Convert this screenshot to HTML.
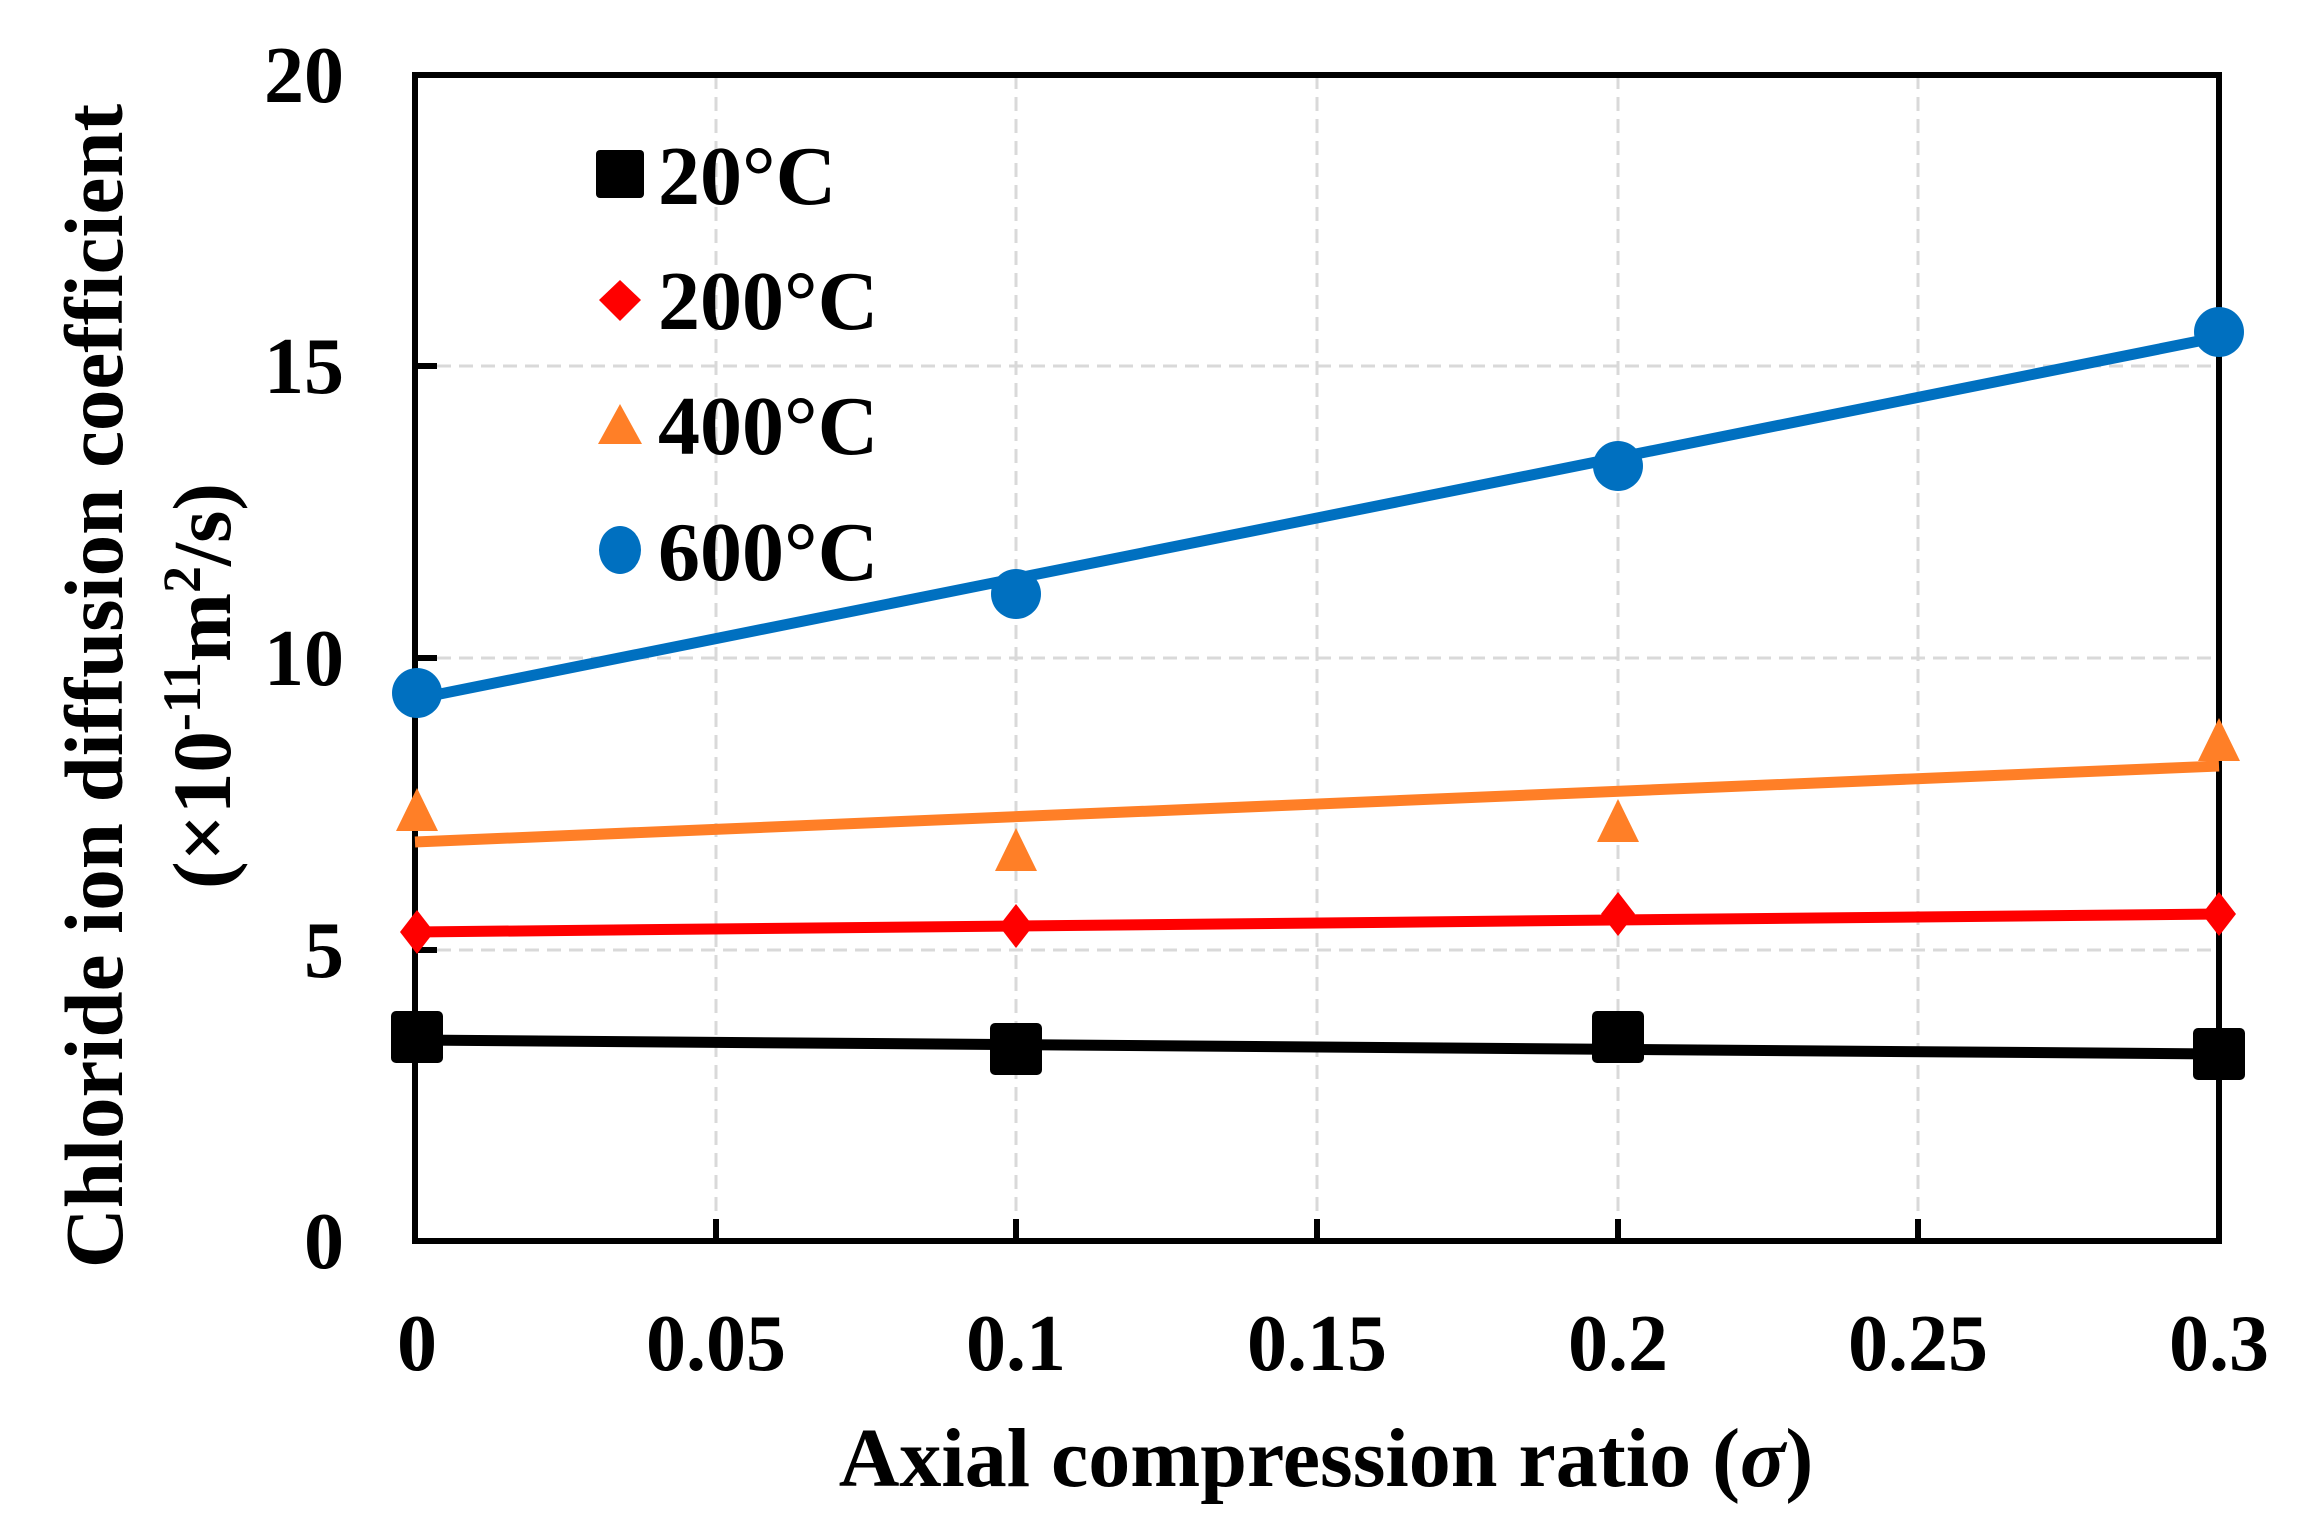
<!DOCTYPE html>
<html><head><meta charset="utf-8"><style>body{margin:0;background:#fff}svg{display:block}</style></head><body>
<svg width="2313" height="1536" xmlns="http://www.w3.org/2000/svg" font-family="Liberation Serif, serif" font-weight="bold">
<rect width="2313" height="1536" fill="#fff"/>
<g stroke="#d9d9d9" stroke-width="3" stroke-dasharray="14,8">
<line x1="716" y1="75" x2="716" y2="1241"/><line x1="1016" y1="75" x2="1016" y2="1241"/><line x1="1317" y1="75" x2="1317" y2="1241"/><line x1="1618" y1="75" x2="1618" y2="1241"/><line x1="1918" y1="75" x2="1918" y2="1241"/>
<line x1="415" y1="366" x2="2219" y2="366"/><line x1="415" y1="658" x2="2219" y2="658"/><line x1="415" y1="950" x2="2219" y2="950"/>
</g>
<g stroke="#000" stroke-width="6">
<rect x="415" y="75" width="1804" height="1166" fill="none"/>
<line x1="716" y1="1241" x2="716" y2="1219"/><line x1="1016" y1="1241" x2="1016" y2="1219"/><line x1="1317" y1="1241" x2="1317" y2="1219"/><line x1="1618" y1="1241" x2="1618" y2="1219"/><line x1="1918" y1="1241" x2="1918" y2="1219"/>
<line x1="415" y1="366" x2="437" y2="366"/><line x1="415" y1="658" x2="437" y2="658"/><line x1="415" y1="950" x2="437" y2="950"/>
</g>
<g font-size="80" text-anchor="end">
<text x="344" y="102">20</text><text x="344" y="393">15</text><text x="344" y="685">10</text><text x="344" y="977">5</text><text x="344" y="1268">0</text>
</g>
<g font-size="80" text-anchor="middle">
<text x="417" y="1370">0</text><text x="716" y="1370">0.05</text><text x="1016" y="1370">0.1</text><text x="1317" y="1370">0.15</text><text x="1618" y="1370">0.2</text><text x="1918" y="1370">0.25</text><text x="2219" y="1370">0.3</text>
</g>
<text x="1326" y="1486" font-size="84" text-anchor="middle">Axial compression ratio (<tspan font-style="italic">σ</tspan>)</text>
<g font-size="83" text-anchor="middle">
<text transform="translate(122,686) rotate(-90)">Chloride ion diffusion coefficient</text>
<text transform="translate(230,686) rotate(-90)">(×10<tspan font-size="54" dy="-30">-11</tspan><tspan dy="30">m</tspan><tspan font-size="54" dy="-30">2</tspan><tspan dy="30">/s)</tspan></text>
</g>
<line x1="415" y1="699" x2="2219" y2="337" stroke="#0070c0" stroke-width="11"/>
<line x1="415" y1="842" x2="2219" y2="766" stroke="#ff7f27" stroke-width="11"/>
<line x1="415" y1="932" x2="2219" y2="914" stroke="#ff0000" stroke-width="11"/>
<line x1="415" y1="1040" x2="2219" y2="1054" stroke="#000" stroke-width="11"/>
<g fill="#0070c0"><circle cx="417" cy="693" r="25"/><circle cx="1016" cy="594" r="25"/><circle cx="1618" cy="466" r="25"/><circle cx="2219" cy="332" r="25"/></g>
<g fill="#ff7f27"><polygon points="417,788 396,831 438,831"/><polygon points="1016,828 995,871 1037,871"/><polygon points="1618,799 1597,842 1639,842"/><polygon points="2219,718 2198,761 2240,761"/></g>
<g fill="#ff0000"><polygon points="417,910 434,932 417,954 400,932"/><polygon points="1016,904 1033,926 1016,948 999,926"/><polygon points="1618,892 1635,914 1618,936 1601,914"/><polygon points="2219,892 2236,914 2219,936 2202,914"/></g>
<g fill="#000"><rect x="391" y="1011" width="52" height="52" rx="5"/><rect x="990" y="1023" width="52" height="52" rx="5"/><rect x="1592" y="1011" width="52" height="52" rx="5"/><rect x="2193" y="1028" width="52" height="52" rx="5"/></g>
<rect x="596" y="150" width="48" height="48" rx="4" fill="#000"/>
<polygon points="620,280 641,300 620,321 599,300" fill="#ff0000"/>
<polygon points="620,404 598,444 642,444" fill="#ff7f27"/>
<ellipse cx="620" cy="550" rx="21" ry="24" fill="#0070c0"/>
<g font-size="84"><text x="658" y="204">20°C</text><text x="658" y="329">200°C</text><text x="658" y="454">400°C</text><text x="658" y="580">600°C</text></g>
</svg>
</body></html>
